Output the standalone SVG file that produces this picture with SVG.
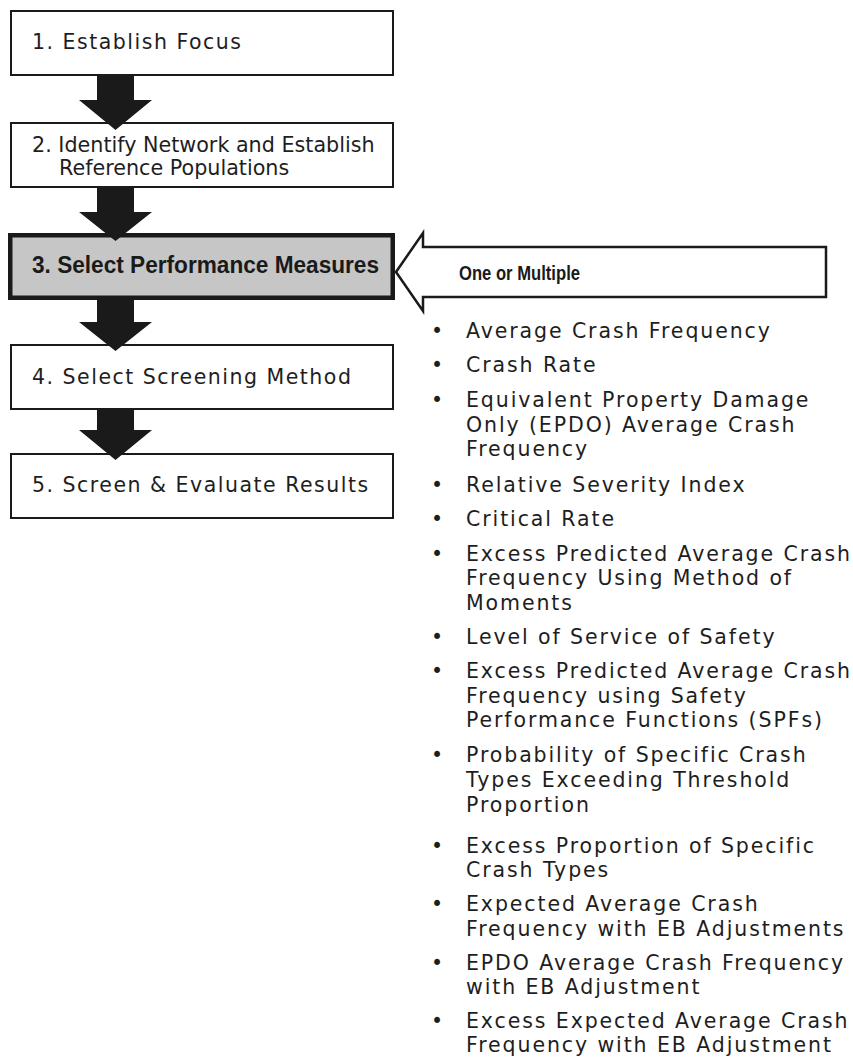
<svg xmlns="http://www.w3.org/2000/svg" width="853" height="1059" viewBox="0 0 853 1059">
<style>
.box{fill:#fff;stroke:#1a1a1a;stroke-width:2}
.sel{fill:#c6c6c6;stroke:#1a1a1a;stroke-width:4.5}
.t{font-family:"DejaVu Sans",Verdana,sans-serif;font-size:20.5px;fill:#1e1e1e;letter-spacing:1.5px}
.t2{font-family:"DejaVu Sans",Verdana,sans-serif;font-size:20.7px;fill:#1e1e1e}
.tb{font-family:"Liberation Sans",Arial,sans-serif;font-weight:bold;fill:#1a1a1a}
.li{font-family:"DejaVu Sans",Verdana,sans-serif;font-size:20.5px;fill:#1e1e1e;letter-spacing:1.9px}
.bul{font-family:"DejaVu Sans",Verdana,sans-serif;font-size:20.5px;fill:#1e1e1e}
.blk{fill:#1a1a1a}
.hollow{fill:#fff;stroke:#1a1a1a;stroke-width:2.5;stroke-linejoin:miter}
</style>
<rect width="853" height="1059" fill="#fff"/>
<g id="node1">
<rect class="box" x="11" y="11" width="382" height="64"/>
<text class="t" x="32" y="49">1. Establish Focus</text>
</g>
<g id="node2">
<rect class="box" x="11" y="123" width="382" height="64"/>
<text class="t2" x="32" y="152">2. Identify Network and Establish</text>
<text class="t2" x="59" y="175">Reference Populations</text>
</g>
<g id="node3">
<rect class="sel" x="10.25" y="235.25" width="382.5" height="62.5"/>
<text class="tb" x="32" y="273" font-size="23.5" textLength="347" lengthAdjust="spacingAndGlyphs">3. Select Performance Measures</text>
</g>
<g id="node4">
<rect class="box" x="11" y="345" width="382" height="64"/>
<text class="t" x="32" y="384">4. Select Screening Method</text>
</g>
<g id="node5">
<rect class="box" x="11" y="454" width="382" height="64"/>
<text class="t" x="32" y="492">5. Screen &amp; Evaluate Results</text>
</g>
<g id="connectors">
<polygon class="blk" points="97,75 134,75 134,100 152,100 115.5,130 79,100 97,100"/>
<polygon class="blk" points="97,187 134,187 134,212 152,212 115.5,241 79,212 97,212"/>
<polygon class="blk" points="97,299 134,299 134,322 152,322 115.5,351 79,322 97,322"/>
<polygon class="blk" points="97,409 134,409 134,430 152,430 115.5,460 79,430 97,430"/>
</g>
<g id="input-arrow">
<polygon class="hollow" points="396,272 423,233 423,247 826,247 826,297 423,297 423,311"/>
<text class="tb" x="459" y="280" font-size="20.5" textLength="121" lengthAdjust="spacingAndGlyphs">One or Multiple</text>
</g>
<g id="measures">
<text class="bul" x="431" y="338">•</text>
<text class="li" x="466" y="338">Average Crash Frequency</text>
<text class="bul" x="431" y="372">•</text>
<text class="li" x="466" y="372">Crash Rate</text>
<text class="bul" x="431" y="407">•</text>
<text class="li" x="466" y="407">Equivalent Property Damage</text>
<text class="li" x="466" y="432">Only (EPDO) Average Crash</text>
<text class="li" x="466" y="456">Frequency</text>
<text class="bul" x="431" y="492">•</text>
<text class="li" x="466" y="492">Relative Severity Index</text>
<text class="bul" x="431" y="526">•</text>
<text class="li" x="466" y="526">Critical Rate</text>
<text class="bul" x="431" y="561">•</text>
<text class="li" x="466" y="561">Excess Predicted Average Crash</text>
<text class="li" x="466" y="585">Frequency Using Method of</text>
<text class="li" x="466" y="610">Moments</text>
<text class="bul" x="431" y="644">•</text>
<text class="li" x="466" y="644">Level of Service of Safety</text>
<text class="bul" x="431" y="678">•</text>
<text class="li" x="466" y="678">Excess Predicted Average Crash</text>
<text class="li" x="466" y="703">Frequency using Safety</text>
<text class="li" x="466" y="727">Performance Functions (SPFs)</text>
<text class="bul" x="431" y="762">•</text>
<text class="li" x="466" y="762">Probability of Specific Crash</text>
<text class="li" x="466" y="787">Types Exceeding Threshold</text>
<text class="li" x="466" y="812">Proportion</text>
<text class="bul" x="431" y="853">•</text>
<text class="li" x="466" y="853">Excess Proportion of Specific</text>
<text class="li" x="466" y="877">Crash Types</text>
<text class="bul" x="431" y="911">•</text>
<text class="li" x="466" y="911">Expected Average Crash</text>
<text class="li" x="466" y="936">Frequency with EB Adjustments</text>
<text class="bul" x="431" y="970">•</text>
<text class="li" x="466" y="970">EPDO Average Crash Frequency</text>
<text class="li" x="466" y="994">with EB Adjustment</text>
<text class="bul" x="431" y="1028">•</text>
<text class="li" x="466" y="1028">Excess Expected Average Crash</text>
<text class="li" x="466" y="1052">Frequency with EB Adjustment</text>
</g>
</svg>
